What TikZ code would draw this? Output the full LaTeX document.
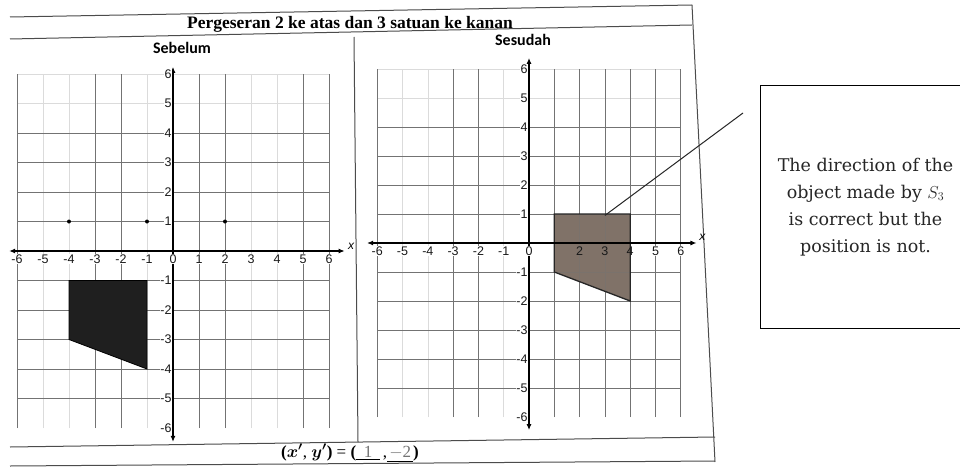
\documentclass[tikz,border=0pt]{standalone}
\usepackage{amsmath}
\usepackage{fontspec}
\setmainfont{Liberation Serif}
\newfontfamily\axisfont{Liberation Sans}
\newfontfamily\labfont{Carlito}
\newfontfamily\callfont{DejaVu Serif}
\usetikzlibrary{arrows.meta}
\definecolor{shadebrown}{RGB}{128,114,104}
\newcommand{\blankA}{\underline{\makebox[24pt]{\textcolor{black!55}{1}}}}
\newcommand{\blankB}{\underline{\makebox[26pt]{\textcolor{black!55}{$-$2}}}}
\begin{document}
\begin{tikzpicture}[x=1pt,y=-1pt,
  frame/.style={line width=1pt, black!70},
  gridstrong/.style={line width=0.8pt, black!55},
  gridfaint/.style={line width=0.5pt, black!14},
  axisline/.style={line width=1.1pt, black, {Latex[length=6pt,width=5pt]}-{Latex[length=6pt,width=5pt]}},
  ticklab/.style={font=\axisfont\fontsize{12.5}{12.5}\selectfont, text=black!90, inner sep=0.5pt, fill=white},
  panellab/.style={font=\labfont\bfseries\fontsize{16}{16}\selectfont, inner sep=0pt},
]
\useasboundingbox (0,0) rectangle (960,468);
\fill[white] (0,0) rectangle (960,468);

% ---------- frame ----------
\draw[frame] (10,17) -- (692,5);
\draw[frame] (10,39) -- (692,25);
\draw[frame] (692,5) -- (715,462);
\draw[frame] (354,37) -- (358,442);
\draw[frame] (10,447) -- (715,437);
\draw[frame] (10,466) -- (715,461);

\node[font=\bfseries\fontsize{17.5}{17.5}\selectfont, inner sep=0pt] (title) at (350,24) {Pergeseran 2 ke atas dan 3 satuan ke kanan};
\node[panellab] (sebelum) at (182,48) {Sebelum};
\node[panellab] (sesudah) at (523,40) {Sesudah};

% ---------- left grid (Sebelum) ----------
\begin{scope}[shift={(173pt,-251pt)}, x=26pt, y=29.5pt]
  \foreach \i in {-5,-4,-1,3,4} \draw[gridfaint] (\i,-6) -- (\i,6);
  \foreach \j in {5,6} \draw[gridfaint] (-6,\j) -- (6,\j);
  \foreach \i in {-6,-3,-2,1,2,5,6} \draw[gridstrong] (\i,-6) -- (\i,6);
  \foreach \j in {4,3,2,1,-1,-2,-3,-4,-5} \draw[gridstrong] (-6,\j) -- (6,\j);
  \fill[black!88, draw=black, line width=0.8pt] (-4,-1) -- (-1,-1) -- (-1,-4) -- (-4,-3) -- cycle;
  \fill (-4,1) circle (2pt) (-1,1) circle (2pt) (2,1) circle (2pt);
  \coordinate (Lxl) at (-6.3,0);
  \coordinate (Lxr) at (6.6,0);
  \coordinate (Lyb) at (0,-6.47);
  \coordinate (Lyt) at (0,6.24);
  \draw[axisline] (Lxl) -- (Lxr);
  \draw[axisline] (Lyb) -- (Lyt);
  \node[font=\axisfont\itshape\fontsize{12}{12}\selectfont, inner sep=0pt] (Lxlab) at (6.85,0.15) {x};
  \foreach \i in {-6,...,6} \node[ticklab, anchor=north] at (\i,-0.1) {\i};
  \foreach \j in {-6,...,-1,1,2,...,6} \node[ticklab, anchor=east] at (-0.03,\j) {\j};
\end{scope}

% ---------- right grid (Sesudah) ----------
\begin{scope}[shift={(529pt,-243pt)}, x=25.3pt, y=29pt]
  \fill[shadebrown] (1,1) -- (4,1) -- (4,-2) -- (1,-1) -- cycle;
  \foreach \i in {-5,-4,-1} \draw[gridfaint] (\i,-6) -- (\i,6);
  \foreach \j in {5,6} \draw[gridfaint] (-6,\j) -- (6,\j);
  \foreach \i in {-6,-3,-2,1,2,3,4,5,6} \draw[gridstrong] (\i,-6) -- (\i,6);
  \foreach \j in {4,3,2,1,-1,-2,-3,-4,-5} \draw[gridstrong] (-6,\j) -- (6,\j);
  \fill[shadebrown, opacity=0.55] (1,1) -- (4,1) -- (4,-2) -- (1,-1) -- cycle;
  \draw[black!85, line width=1.3pt] (1,1) -- (4,1) -- (4,-2) -- (1,-1) -- cycle;
  \coordinate (Rxl) at (-6.4,0);
  \coordinate (Rxr) at (6.62,0);
  \coordinate (Ryb) at (0,-6.45);
  \coordinate (Ryt) at (0,6.38);
  \draw[axisline] (Rxl) -- (Rxr);
  \draw[axisline] (Ryb) -- (Ryt);
  \node[font=\axisfont\itshape\fontsize{12}{12}\selectfont, inner sep=0pt] (Rxlab) at (6.85,0.2) {x};
  \foreach \i in {-6,...,0,5,6} \node[ticklab, anchor=north] at (\i,-0.1) {\i};
  \foreach \i in {2,3,4} \node[ticklab, anchor=north, fill=none] at (\i,-0.1) {\i};
  \foreach \j in {-6,...,-1,1,2,...,6} \node[ticklab, anchor=east] at (-0.03,\j) {\j};
  \coordinate (ctip) at (3,0.95);
\end{scope}

% ---------- callout ----------
\coordinate (cend) at (743,113);
\draw[line width=1pt, black!85] (ctip) -- (cend);
\node[draw, line width=1pt, minimum width=205pt, minimum height=242pt, inner sep=0pt, align=center,
      font=\callfont\fontsize{17.5}{27}\selectfont, text=black!85] (callout) at (862.5,207)
  {\hspace*{6pt}The direction of the\\ \hspace*{6pt}object made by $S_3$\\ \hspace*{6pt}is correct but the\\ \hspace*{6pt}position is not.};

% ---------- bottom formula ----------
\node[font=\fontsize{17}{17}\selectfont, inner sep=0pt] (formula) at (350,453)
  {\textbf{(}{\boldmath$x'$}, {\boldmath$y'$}\textbf{)} = \textbf{(}\blankA\,,\blankB\textbf{)}};
\end{tikzpicture}
\end{document}
